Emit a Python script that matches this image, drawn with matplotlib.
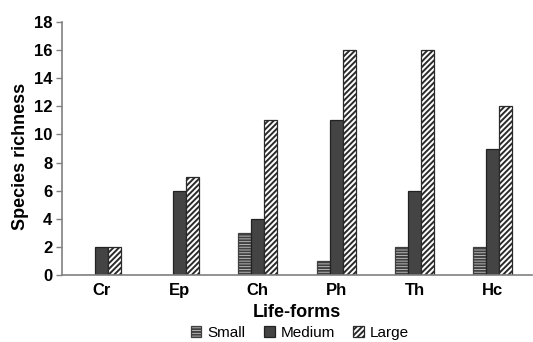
import matplotlib
matplotlib.use("Agg")
import matplotlib.pyplot as plt
import numpy as np

plt.rcParams['font.family'] = ['Liberation Sans', 'DejaVu Sans']
plt.rcParams['hatch.linewidth'] = 1.4

categories = ["Cr", "Ep", "Ch", "Ph", "Th", "Hc"]
small = [0, 0, 3, 1, 2, 2]
medium = [2, 6, 4, 11, 6, 9]
large = [2, 7, 11, 16, 16, 12]
yticks = [0, 2, 4, 6, 8, 10, 12, 14, 16, 18]

fig = plt.figure(figsize=(5.33, 3.42), dpi=100)
ax = fig.add_axes([62/533, 1-275/342, (532-62)/533, (275-22)/342])

x = np.arange(len(categories))
w = 0.165
ax.bar(x - w, small, w, color='#c8c8c8', edgecolor='#404040', hatch='------', linewidth=0.9, label='Small')
ax.bar(x, medium, w, color='#444444', edgecolor='#222222', linewidth=0.9, label='Medium')
ax.bar(x + w, large, w, color='white', edgecolor='#2a2a2a', hatch='//////', linewidth=0.9, label='Large')

ax.set_xlim(-0.5, len(categories) - 0.5)
ax.set_ylim(0, 18)
ax.set_yticks(yticks)
ax.set_xticks(x)
ax.set_xticklabels(categories, fontsize=12, fontweight='bold')
ax.set_yticklabels([str(t) for t in yticks], fontsize=12, fontweight='bold')
ax.tick_params(axis='x', length=0, pad=6)
ax.tick_params(axis='y', length=4, width=1, color='#808080', pad=3)
for s in ['top', 'right']:
    ax.spines[s].set_visible(False)
for s in ['left', 'bottom']:
    ax.spines[s].set_color('#808080')
    ax.spines[s].set_linewidth(1.2)

ax.set_xlabel('Life-forms', fontsize=13, fontweight='bold', labelpad=4)
ax.set_ylabel('Species richness', fontsize=13, fontweight='bold')
ax.yaxis.set_label_coords(-0.07, 0.468)

leg = fig.legend(loc='center', bbox_to_anchor=(300/533, 1-333/342), ncol=3, frameon=False,
                 fontsize=11, handlelength=0.7, handleheight=0.7, handletextpad=0.4, columnspacing=1.2)

fig.savefig('out.png', dpi=100)
